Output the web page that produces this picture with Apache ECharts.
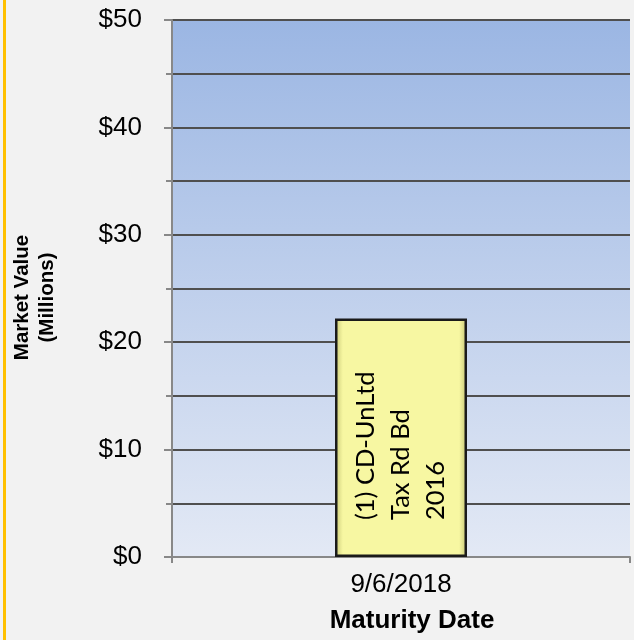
<!DOCTYPE html>
<html>
<head>
<meta charset="utf-8">
<script src="https://cdn.jsdelivr.net/npm/echarts@6/dist/echarts.min.js"></script>
<style>
html,body{margin:0;padding:0;background:#f2f2f2;}
#chart{width:634px;height:640px;}
</style>
</head>
<body>
<div id="chart"></div>
<script>
const categories = ['9/6/2018'];
const marketValues = [22.2];
const barLabels = ['(1) CD-UnLtd\nTax Rd Bd\n2016'];
const yMin = 0, yMax = 50, yInterval = 10;

const chart = echarts.init(document.getElementById('chart'), null, {renderer: 'canvas'});
const option = {
  backgroundColor: '#f2f2f2',
  animation: false,
  graphic: [{
    type: 'rect', left: 3, top: 0,
    shape: {width: 3, height: 640},
    style: {fill: '#ffc000'}, silent: true
  }],
  grid: {
    left: 172, right: 4, top: 20, bottom: 83,
    containLabel: false, outerBoundsMode: 'none',
    show: true, borderWidth: 0,
    backgroundColor: new echarts.graphic.LinearGradient(0, 0, 0, 1, [
      {offset: 0, color: '#9bb6e3'},
      {offset: 1, color: '#e3e9f5'}
    ])
  },
  xAxis: {
    type: 'category',
    data: categories,
    boundaryGap: true,
    name: 'Maturity Date',
    nameLocation: 'middle',
    nameGap: 51,
    nameTextStyle: {fontFamily: 'Liberation Sans', fontSize: 26, fontWeight: 'bold', color: '#000', padding: [0, 0, 0, 22]},
    axisLine: {show: true, lineStyle: {color: '#888888', width: 2}},
    axisTick: {show: true, length: 6, lineStyle: {color: '#888888', width: 2}},
    axisLabel: {fontFamily: 'Liberation Sans', fontSize: 26, color: '#000', margin: 15},
    splitLine: {show: false}
  },
  yAxis: {
    type: 'value',
    min: yMin, max: yMax, interval: yInterval,
    name: 'Market Value\n(Millions)',
    nameLocation: 'middle',
    nameGap: 112,
    nameTextStyle: {fontFamily: 'Liberation Sans', fontSize: 20.5, fontWeight: 'bold', color: '#000', lineHeight: 25, align: 'center', padding: [0, 18, 0, 0]},
    axisLine: {show: true, lineStyle: {color: '#888888', width: 2}},
    axisTick: {show: true, length: 8, lineStyle: {color: '#888888', width: 2}},
    minorTick: {show: true, splitNumber: 2, length: 6, lineStyle: {color: '#888888', width: 2}},
    axisLabel: {fontFamily: 'Liberation Sans', fontSize: 26, color: '#000', margin: 30,
      formatter: v => '$' + v},
    splitLine: {show: true, lineStyle: {color: '#4f4f4f', width: 2}},
    minorSplitLine: {show: true, lineStyle: {color: '#4f4f4f', width: 2}}
  },
  series: [{
    type: 'bar',
    data: marketValues,
    barWidth: 132,
    itemStyle: {
      color: new echarts.graphic.LinearGradient(0, 0, 1, 0, [
        {offset: 0, color: '#c9c978'},
        {offset: 0.06, color: '#f7f7a2'},
        {offset: 0.94, color: '#f7f7a2'},
        {offset: 1, color: '#c4c475'}
      ]),
      borderColor: '#1a1a1a',
      borderWidth: 2.5
    },
    label: {
      show: true,
      formatter: p => barLabels[p.dataIndex],
      position: 'insideBottom',
      distance: 37,
      rotate: 90,
      align: 'left',
      verticalAlign: 'middle',
      fontFamily: 'Lato',
      fontSize: 25.5,
      lineHeight: 35,
      color: '#000'
    }
  }]
};
chart.setOption(option);
</script>
</body>
</html>
